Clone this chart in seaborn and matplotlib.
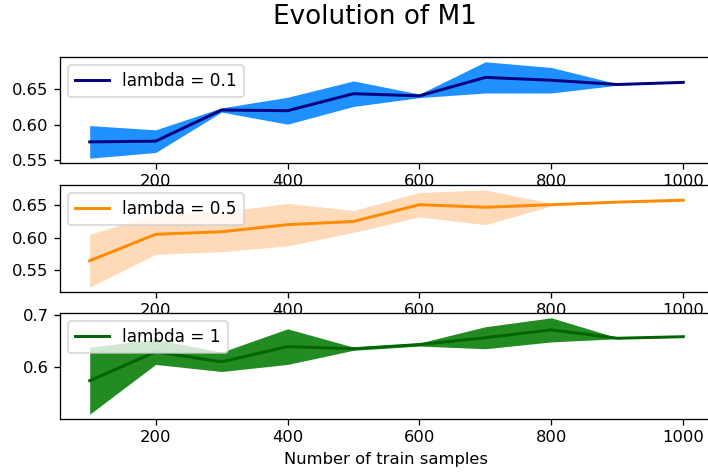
import matplotlib
matplotlib.use("Agg")
import matplotlib.pyplot as plt
import numpy as np
import pandas as pd
import seaborn as sns

# Training-set sizes
train_samples = [100, 200, 300, 400, 500, 600, 700, 800, 900, 1000]

# Mean and standard deviation of M1 for each regularisation strength
m1_mean_l01 = [0.576, 0.577, 0.621, 0.620, 0.644, 0.641, 0.667, 0.663, 0.657, 0.660]
m1_std_l01 = [0.023, 0.016, 0.003, 0.019, 0.018, 0.0025, 0.022, 0.018, 0.001, 0.0005]

m1_mean_l05 = [0.564, 0.605, 0.609, 0.620, 0.625, 0.651, 0.647, 0.651, 0.655, 0.658]
m1_std_l05 = [0.041, 0.031, 0.031, 0.033, 0.017, 0.019, 0.027, 0.002, 0.001, 0.002]

m1_mean_l1 = [0.574, 0.629, 0.610, 0.639, 0.635, 0.643, 0.656, 0.671, 0.655, 0.658]
m1_std_l1 = [0.064, 0.024, 0.0185, 0.034, 0.003, 0.003, 0.021, 0.023, 0.001, 0.001]

series_labels = ["lambda = 0.1", "lambda = 0.5", "lambda = 1"]
line_colors = ["navy", "darkorange", "darkgreen"]
band_colors = ["dodgerblue", "peachpuff", "forestgreen"]

W, H, DPI = 708, 475, 118
fig = plt.figure(figsize=(W / DPI, H / DPI), dpi=DPI)

# Panel extents in pixels (top, bottom); the panels stack with a small overlap
panel_px = [(57, 163), (185, 292), (313, 419)]
left_px, right_px = 60, 713

series = [
    (m1_mean_l01, m1_std_l01),
    (m1_mean_l05, m1_std_l05),
    (m1_mean_l1, m1_std_l1),
]

axes = []
for (top, bottom), (mean, std), label, lc, bc in zip(
    panel_px, series, series_labels, line_colors, band_colors
):
    ax = fig.add_axes([
        left_px / W,
        1 - bottom / H,
        (right_px - left_px) / W,
        (bottom - top) / H,
    ])
    df = pd.DataFrame({"n": train_samples, "mean": mean, "std": std})
    ax.fill_between(df["n"], df["mean"] - df["std"], df["mean"] + df["std"],
                    color=bc, linewidth=0)
    sns.lineplot(data=df, x="n", y="mean", ax=ax, color=lc, linewidth=1.8,
                 label=label)
    ax.set_xlabel("")
    ax.set_ylabel("")
    ax.set_xticks([200, 400, 600, 800, 1000])
    ax.legend(loc="upper left", fontsize=10.3)
    axes.append(ax)

axes[2].set_yticks([0.6, 0.7])
axes[2].set_yticklabels(["0.6", "0.7"])
axes[2].set_xlabel("Number of train samples")

fig.suptitle("Evolution of M1", x=375 / W, y=1 - 4 / H, fontsize=16, va="top")

fig.savefig("out.png", dpi=DPI)
